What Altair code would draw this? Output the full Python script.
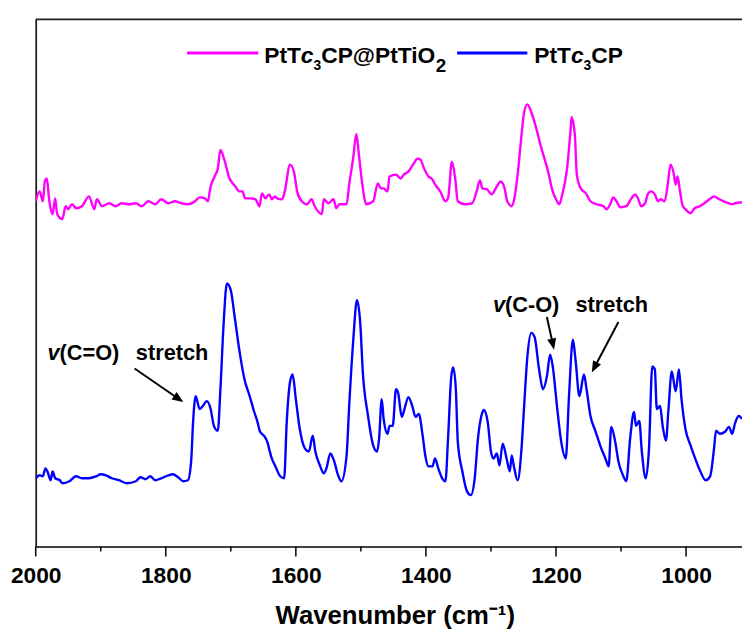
import math
import altair as alt
import pandas as pd

# ---- data (wavenumber in cm-1, intensity in arbitrary units) ----
wn_pink = [2000, 1994, 1989, 1986, 1983, 1979, 1974, 1970, 1967, 1959, 1954, 1950, 1944, 1938,
           1929, 1918, 1910, 1906, 1898, 1887, 1877, 1868, 1857, 1846, 1837, 1827, 1816, 1807,
           1796, 1786, 1776, 1766, 1755, 1748, 1740, 1735, 1732, 1725, 1720, 1716, 1710, 1702,
           1697, 1693, 1687, 1682, 1678, 1670, 1662, 1656, 1652, 1647, 1641, 1637, 1632, 1629,
           1621, 1617, 1609, 1603, 1598, 1591, 1583, 1576, 1571, 1560, 1557, 1550, 1542, 1538,
           1533, 1522, 1518, 1512, 1507, 1503, 1497, 1492, 1481, 1474, 1469, 1465, 1459, 1456,
           1446, 1439, 1434, 1427, 1419, 1413, 1408, 1404, 1396, 1390, 1386, 1378, 1370, 1366,
           1360, 1355, 1351, 1340, 1329, 1322, 1317, 1313, 1306, 1299, 1291, 1285, 1279, 1275,
           1268, 1264, 1259, 1253, 1249, 1244, 1238, 1230, 1223, 1215, 1211, 1206, 1200, 1195,
           1191, 1183, 1177, 1176, 1171, 1168, 1162, 1154, 1147, 1138, 1127, 1122, 1116, 1112,
           1107, 1101, 1092, 1084, 1078, 1074, 1069, 1063, 1059, 1054, 1048, 1043, 1039, 1033,
           1028, 1024, 1019, 1016, 1013, 1010, 1005, 1001, 993, 987, 979, 972, 964, 957, 949,
           942, 934, 929, 925, 914]
int_pink = [349, 359, 349, 369, 372, 349, 336, 352, 336, 331, 344, 341, 346, 342,
            344, 354, 341, 351, 344, 347, 344, 347, 346, 347, 344, 349, 346, 351,
            347, 349, 347, 346, 349, 353, 352, 349, 361, 374, 382, 401, 391, 372,
            367, 364, 359, 359, 352, 352, 351, 344, 357, 352, 356, 351, 354, 352,
            351, 359, 386, 379, 359, 349, 346, 351, 344, 336, 351, 347, 351, 342,
            346, 346, 366, 392, 417, 396, 362, 346, 349, 367, 362, 362, 359, 374,
            376, 372, 376, 379, 387, 392, 391, 384, 374, 371, 366, 359, 349, 352,
            389, 372, 349, 346, 347, 359, 370, 362, 361, 356, 364, 369, 362, 349,
            344, 352, 376, 416, 439, 447, 439, 422, 404, 386, 376, 361, 351, 346,
            354, 382, 426, 434, 416, 376, 362, 357, 349, 346, 344, 341, 347, 353,
            349, 343, 344, 352, 356, 352, 344, 347, 356, 359, 356, 349, 351, 349,
            367, 386, 377, 366, 374, 362, 344, 341, 337, 342, 344, 347, 351, 354, 351,
            349, 347, 346, 347, 348]

wn_blue = [2000, 1994, 1989, 1985, 1982, 1977, 1974, 1970, 1963, 1959, 1948, 1938, 1929, 1918,
           1907, 1900, 1892, 1883, 1872, 1860, 1846, 1839, 1831, 1824, 1816, 1807, 1796, 1789,
           1781, 1773, 1766, 1761, 1758, 1754, 1748, 1743, 1737, 1731, 1726, 1720, 1716, 1711,
           1706, 1700, 1694, 1687, 1679, 1671, 1664, 1659, 1655, 1649, 1644, 1640, 1637, 1632,
           1624, 1618, 1614, 1609, 1605, 1600, 1594, 1586, 1580, 1574, 1570, 1563, 1557, 1553,
           1547, 1541, 1535, 1530, 1522, 1518, 1512, 1506, 1501, 1497, 1489, 1481, 1475, 1472,
           1468, 1465, 1459, 1456, 1451, 1446, 1443, 1437, 1433, 1427, 1421, 1416, 1411, 1405,
           1401, 1396, 1390, 1386, 1381, 1375, 1370, 1366, 1361, 1358, 1354, 1351, 1344, 1337,
           1331, 1325, 1320, 1314, 1311, 1305, 1300, 1296, 1291, 1287, 1282, 1276, 1271, 1268,
           1265, 1259, 1253, 1249, 1244, 1238, 1233, 1226, 1220, 1214, 1209, 1205, 1198, 1192,
           1185, 1180, 1174, 1170, 1164, 1157, 1153, 1147, 1139, 1132, 1124, 1119, 1115, 1109,
           1104, 1097, 1092, 1086, 1080, 1077, 1072, 1068, 1062, 1057, 1052, 1048, 1045, 1040,
           1036, 1031, 1027, 1022, 1016, 1011, 1007, 1001, 993, 986, 978, 970, 963, 957, 954,
           948, 940, 934, 929, 925, 919, 914]
int_blue = [69, 72, 71, 79, 76, 67, 76, 69, 67, 64, 66, 71, 69, 69,
            71, 73, 72, 69, 67, 64, 66, 70, 68, 71, 67, 69, 72, 73,
            70, 66, 67, 86, 126, 152, 139, 142, 147, 139, 122, 117, 159, 226,
            266, 259, 232, 199, 169, 152, 136, 126, 116, 112, 106, 96, 89, 82,
            71, 69, 126, 166, 174, 149, 119, 99, 96, 112, 96, 82, 74, 79,
            94, 86, 72, 66, 92, 142, 206, 249, 226, 176, 132, 102, 96, 109,
            149, 129, 114, 122, 122, 159, 156, 131, 139, 151, 142, 131, 134, 112,
            92, 81, 81, 89, 79, 69, 66, 109, 172, 181, 159, 106, 76, 56,
            52, 69, 109, 134, 138, 126, 96, 89, 94, 82, 104, 89, 76, 92,
            82, 67, 99, 142, 192, 216, 212, 179, 159, 172, 194, 182, 139, 106,
            89, 152, 209, 189, 152, 174, 159, 132, 116, 102, 89, 81, 121, 106,
            86, 72, 66, 109, 136, 122, 127, 96, 69, 99, 182, 179, 139, 142,
            122, 107, 139, 177, 157, 179, 149, 119, 102, 89, 76, 67, 71, 99, 117,
            114, 116, 121, 114, 124, 132, 129]

series_names = ["PtTc3CP@PtTiO2", "PtTc3CP"]
series_colors = ["#FF00FF", "#0000FF"]
major_ticks = [2000, 1800, 1600, 1400, 1200, 1000]
minor_ticks = [1900, 1700, 1500, 1300, 1100]

# annotation anchors (wavenumber, intensity)
arrows = pd.DataFrame({
    "wn": [1848, 1214, 1104],
    "val": [180, 232, 227],
    "wn2": [1773, 1203, 1145],
    "val2": [146, 199, 176],
})

# ---- layout ----
X_MIN, X_MAX = 914, 2000
W, H = 714, 533
PXU = W / (X_MAX - X_MIN)  # pixels per cm-1
FONT = "Liberation Sans"

WID = {'P': 667, 't': 333, 'T': 611, 'c': 556, '3': 556, 'C': 722, '@': 975, 'i': 278,
       'O': 778, '2': 556, 'v': 556, '(': 333, ')': 333, '=': 584, '-': 333}


def tw(s, fs):
    return sum(WID[ch] for ch in s) * fs / 1000.0


one = pd.DataFrame({"a": [0]})

x_scale = alt.Scale(domain=[X_MIN, X_MAX], reverse=True, nice=False, zero=False)
y_scale = alt.Scale(domain=[0, 533], nice=False, zero=False)

x_axis = alt.Axis(
    values=major_ticks, format="d", ticks=False,
    domainColor="black", domainWidth=1.6,
    labelFont=FONT, labelFontSize=23, labelFontWeight="bold", labelColor="black",
    labelPadding=18, labelFlush=False, labelOverlap=False, grid=False,
    title="Wavenumber (cm⁻¹)", titleFont=FONT, titleFontSize=26, titleFontWeight="bold",
    titleColor="black", titleBaseline="alphabetic", titleY=78, titleX=363, titleAlign="center",
)
y_axis = alt.Axis(labels=False, ticks=False, grid=False, title="",
                  domainColor="#222", domainWidth=1.8)

df_pink = pd.DataFrame({"wn": wn_pink, "val": int_pink})
df_blue = pd.DataFrame({"wn": wn_blue, "val": int_blue})

enc_x = alt.X("wn:Q", scale=x_scale, axis=x_axis)
enc_y = alt.Y("val:Q", scale=y_scale, axis=y_axis)

pink = alt.Chart(df_pink).mark_line(color=series_colors[0], strokeWidth=2.4, clip=True,
                                    interpolate="monotone").encode(x=enc_x, y=enc_y)
blue = alt.Chart(df_blue).mark_line(color=series_colors[1], strokeWidth=2.4, clip=True,
                                    interpolate="monotone").encode(x=enc_x, y=enc_y)

layers = [pink, blue]

# tick marks (major longer, minor shorter), drawn below the axis line
for vals, length in [(major_ticks, 10), (minor_ticks, 5)]:
    layers.append(alt.Chart(pd.DataFrame({"t": vals})).mark_rule(
        color="black", strokeWidth=1.5).encode(
        x=alt.X("t:Q", scale=x_scale), y=alt.value(H), y2=alt.value(H + length)))

# top frame line
layers.append(alt.Chart(one).mark_rule(color="#222", strokeWidth=1.8).encode(
    x=alt.value(0), x2=alt.value(W), y=alt.value(0)))


# ---- legend (pixel positions inside plot area) ----
def text_piece(t, x, y, fs, style="normal"):
    return alt.Chart(one).mark_text(
        text=t, align="left", baseline="alphabetic", font=FONT, fontSize=fs,
        fontWeight="bold", fontStyle=style, color="black").encode(
        x=alt.value(x), y=alt.value(y))


def rich(x0, y0, parts):
    out = []
    x = x0
    for t, fs, style, dy in parts:
        out.append(text_piece(t, x, y0 + dy, fs, style))
        x += tw(t, fs)
    return out


LY = 34
for (lx0, lx1, tx), name, col in zip([(153, 225, 231), (426, 497, 504)], series_names, series_colors):
    layers.append(alt.Chart(one).mark_rule(color=col, strokeWidth=3).encode(
        x=alt.value(lx0), x2=alt.value(lx1), y=alt.value(LY)))
    parts = [("PtT", 23, "normal", 0), ("c", 23, "italic", 0), ("3", 14, "normal", 7)]
    if name.endswith("TiO2"):
        parts += [("CP@PtTiO", 23, "normal", 0), ("2", 19, "normal", 9)]
    else:
        parts += [("CP", 23, "normal", 0)]
    layers += rich(tx, LY + 10, parts)


# ---- annotations in data coordinates ----
def ann_piece(t, wn, val, dx, style="normal"):
    return alt.Chart(pd.DataFrame({"wn": [wn], "val": [val]})).mark_text(
        text=t, align="left", baseline="alphabetic", font=FONT, fontSize=22,
        fontWeight="bold", fontStyle=style, color="black", dx=dx).encode(
        x=alt.X("wn:Q", scale=x_scale), y=alt.Y("val:Q", scale=y_scale))


for wn0, val0, bond, wn_s in [(1982, 189, "(C=O)", 1846), (1297, 237, "(C-O)", 1170)]:
    layers.append(ann_piece("v", wn0, val0, 0, "italic"))
    layers.append(ann_piece(bond, wn0, val0, tw("v", 22)))
    layers.append(ann_piece("stretch", wn_s, val0, 0))

# arrows: shaft shortened a little so the head covers its end
shaft = arrows.copy()
heads = arrows.copy()
angs = []
ends_wn, ends_val = [], []
for i, r in arrows.iterrows():
    dxp = -(r.wn2 - r.wn) * PXU
    dyp = -(r.val2 - r.val)
    L = math.hypot(dxp, dyp)
    angs.append(math.degrees(math.atan2(dxp, -dyp)) % 360)
    k = (L - 6) / L
    ends_wn.append(r.wn + (r.wn2 - r.wn) * k)
    ends_val.append(r.val + (r.val2 - r.val) * k)
shaft["wn2"] = ends_wn
shaft["val2"] = ends_val
heads["ang"] = angs

layers.append(alt.Chart(shaft).mark_rule(color="black", strokeWidth=2).encode(
    x=alt.X("wn:Q", scale=x_scale), x2="wn2:Q",
    y=alt.Y("val:Q", scale=y_scale), y2="val2:Q"))
layers.append(alt.Chart(heads).mark_point(
    shape="M0,0L-0.6,1.5L0.6,1.5Z", filled=True, color="black", opacity=1, size=230,
    strokeWidth=0).encode(
    x=alt.X("wn2:Q", scale=x_scale), y=alt.Y("val2:Q", scale=y_scale),
    angle=alt.Angle("ang:Q", scale=None)))

chart = alt.layer(*layers).properties(
    width=W, height=H,
    padding={"left": 28, "top": 8, "right": 0, "bottom": 81},
    autosize=alt.AutoSizeParams(type="none"),
).configure_view(strokeWidth=0)

chart.save("out.html", embed_options={"renderer": "svg", "actions": False})
